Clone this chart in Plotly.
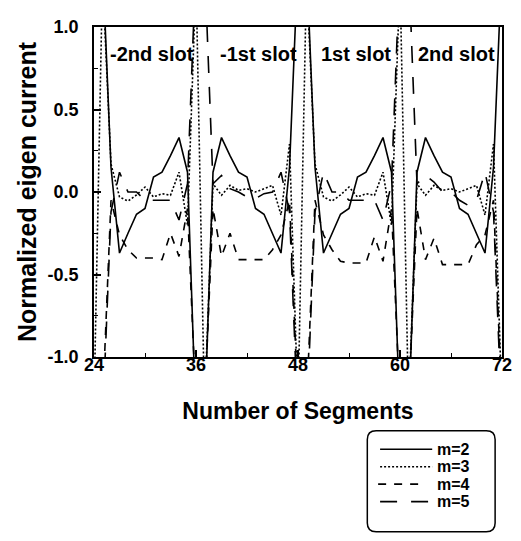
import plotly.graph_objects as go

# ---------------- data ----------------
segments = list(range(24, 73))

m2 = [1.4, 1.4, 0.15, -0.37, -0.25, -0.135, -0.10, 0.09, 0.12, 0.22, 0.33, 0.12, -1.4,
      -1.4, 0.12, 0.33, 0.22, 0.12, 0.09, -0.10, -0.135, -0.25, -0.37, 0.15, 1.4,
      1.4, 0.15, -0.37, -0.25, -0.135, -0.10, 0.09, 0.12, 0.22, 0.33, 0.12, -1.4,
      -1.4, 0.12, 0.33, 0.22, 0.12, 0.09, -0.10, -0.135, -0.25, -0.37, 0.15, 1.4]

m3 = [-1.3, 1.3, 0.17, -0.03, -0.055, -0.018, 0.03, -0.03, -0.01, -0.02, 0.12, -0.2, 1.3,
      -1.3, 0.05, -0.02, 0.04, 0.01, 0.02, 0.0, 0.02, 0.04, -0.14, 0.29, -1.3,
      1.3, 0.17, -0.03, -0.055, -0.018, 0.03, -0.03, -0.01, -0.02, 0.12, -0.2, 1.3,
      -1.3, 0.05, -0.02, 0.04, 0.01, 0.02, 0.0, 0.02, 0.04, -0.14, 0.29, -1.3]

m4 = [-1.3, -1.3, -0.05, -0.26, -0.35, -0.4, -0.4, -0.4, -0.41, -0.25, -0.39, -0.1, -1.3,
      -1.3, -0.1, -0.39, -0.25, -0.41, -0.41, -0.41, -0.41, -0.35, -0.26, -0.05, -1.3,
      -1.3, -0.05, -0.26, -0.35, -0.42, -0.43, -0.43, -0.43, -0.27, -0.42, -0.1, -1.3,
      -1.3, -0.1, -0.41, -0.28, -0.44, -0.44, -0.44, -0.44, -0.32, -0.26, -0.05, -1.3]

m5 = [-1.4, -1.4, -0.12, 0.12, 0.0, 0.0, -0.05, -0.05, -0.05, -0.05, -0.17, 0.05, 1.4,
      1.4, 0.05, 0.1, 0.02, 0.0, -0.03, -0.04, -0.01, 0.0, 0.12, -0.12, -1.4,
      -1.4, -0.12, 0.12, 0.0, 0.0, -0.05, -0.05, -0.05, -0.05, -0.17, 0.05, 1.4,
      1.4, 0.05, 0.1, 0.06, 0.0, 0.0, -0.05, -0.08, -0.05, 0.12, -0.12, -1.4]

series_names = ["m=2", "m=3", "m=4", "m=5"]
series_values = [m2, m3, m4, m5]
series_dash = ["solid", "2px,2px", "8px,8px", "17px,14px"]

x_ticks = [24, 36, 48, 60, 72]
y_ticks = [-1.0, -0.5, 0.0, 0.5, 1.0]
y_ticktext = ["-1.0", "-0.5", "0.0", "0.5", "1.0"]

slot_labels = ["-2nd slot", "-1st slot", "1st slot", "2nd slot"]
slot_label_x = [30.8, 43.3, 54.8, 66.6]

FONT = "Liberation Sans, Arial, sans-serif"

# page geometry in window pixels (the html body adds an 8px offset)
OFF = 8
PAGE_W, PAGE_H = 521, 541
L, R, T, B = 94, 509, 17, 357
FIG_W, FIG_H = PAGE_W - OFF, PAGE_H - OFF
W, H = R - L, B - T

fig = go.Figure()
for name, vals, dash in zip(series_names, series_values, series_dash):
    fig.add_trace(go.Scatter(
        x=segments, y=vals, mode="lines", name=name, showlegend=False,
        line=dict(color="black", width=1.6, dash=dash),
    ))

# slot labels
for txt, xv in zip(slot_labels, slot_label_x):
    fig.add_annotation(x=xv, y=0.835, xref="x", yref="y", text=txt, showarrow=False,
                       font=dict(family=FONT, size=20, color="black", weight="bold"))


# ---------------- manual legend ----------------
def px(x):
    return (x - L) / W


def py(y):
    return (B - y) / H


bx0, bx1, by0, by1, rad = 372, 502, 433, 537, 9
path = (f"M {px(bx0 + rad)},{py(by0)} L {px(bx1 - rad)},{py(by0)} "
        f"Q {px(bx1)},{py(by0)} {px(bx1)},{py(by0 + rad)} "
        f"L {px(bx1)},{py(by1 - rad)} Q {px(bx1)},{py(by1)} {px(bx1 - rad)},{py(by1)} "
        f"L {px(bx0 + rad)},{py(by1)} Q {px(bx0)},{py(by1)} {px(bx0)},{py(by1 - rad)} "
        f"L {px(bx0)},{py(by0 + rad)} Q {px(bx0)},{py(by0)} {px(bx0 + rad)},{py(by0)} Z")
fig.add_shape(type="path", path=path, xref="paper", yref="paper",
              line=dict(color="black", width=1.5), fillcolor="white")

row_y = [452, 470, 488, 506]
sample_x0 = [385, 385, 383, 385]
sample_x1 = [438, 438, 428, 436]
for name, dash, ry, sx0, sx1 in zip(series_names, series_dash, row_y, sample_x0, sample_x1):
    fig.add_shape(type="line", xref="paper", yref="paper",
                  x0=px(sx0), x1=px(sx1), y0=py(ry), y1=py(ry),
                  line=dict(color="black", width=1.6, dash=dash))
    fig.add_annotation(x=px(441), y=py(ry), xref="paper", yref="paper", text=name,
                       showarrow=False, xanchor="left", yanchor="middle",
                       font=dict(family=FONT, size=16, color="black", weight="bold"))

axis_common = dict(showgrid=False, zeroline=False, showline=True, linecolor="black",
                   linewidth=1.5, mirror=True, ticks="inside", tickcolor="black",
                   tickwidth=1.5, ticklen=7)

fig.update_layout(
    width=FIG_W, height=FIG_H,
    margin=dict(l=L - OFF, r=PAGE_W - R, t=T - OFF, b=PAGE_H - B),
    paper_bgcolor="white", plot_bgcolor="white",
    font=dict(family=FONT, color="black"),
    xaxis=dict(range=[24, 72], tickvals=x_ticks, ticktext=[str(v) for v in x_ticks],
               tickfont=dict(family=FONT, size=18, weight="bold"),
               ticklabelstandoff=-9,
               minor=dict(ticks="inside", ticklen=4, tickcolor="black", tickwidth=1.2,
                          tick0=24, dtick=6),
               title=dict(text="Number of Segments", standoff=29,
                          font=dict(family=FONT, size=23, weight="bold")),
               **axis_common),
    yaxis=dict(range=[-1, 1], tickvals=y_ticks, ticktext=y_ticktext,
               tickfont=dict(family=FONT, size=18, weight="bold"),
               ticklabelstandoff=10,
               minor=dict(ticks="inside", ticklen=4, tickcolor="black", tickwidth=1.2,
                          tick0=-1, dtick=0.25),
               title=dict(text="Normalized eigen current", standoff=4,
                          font=dict(family=FONT, size=25, weight="bold")),
               **axis_common),
)

fig.write_html("out.html")
